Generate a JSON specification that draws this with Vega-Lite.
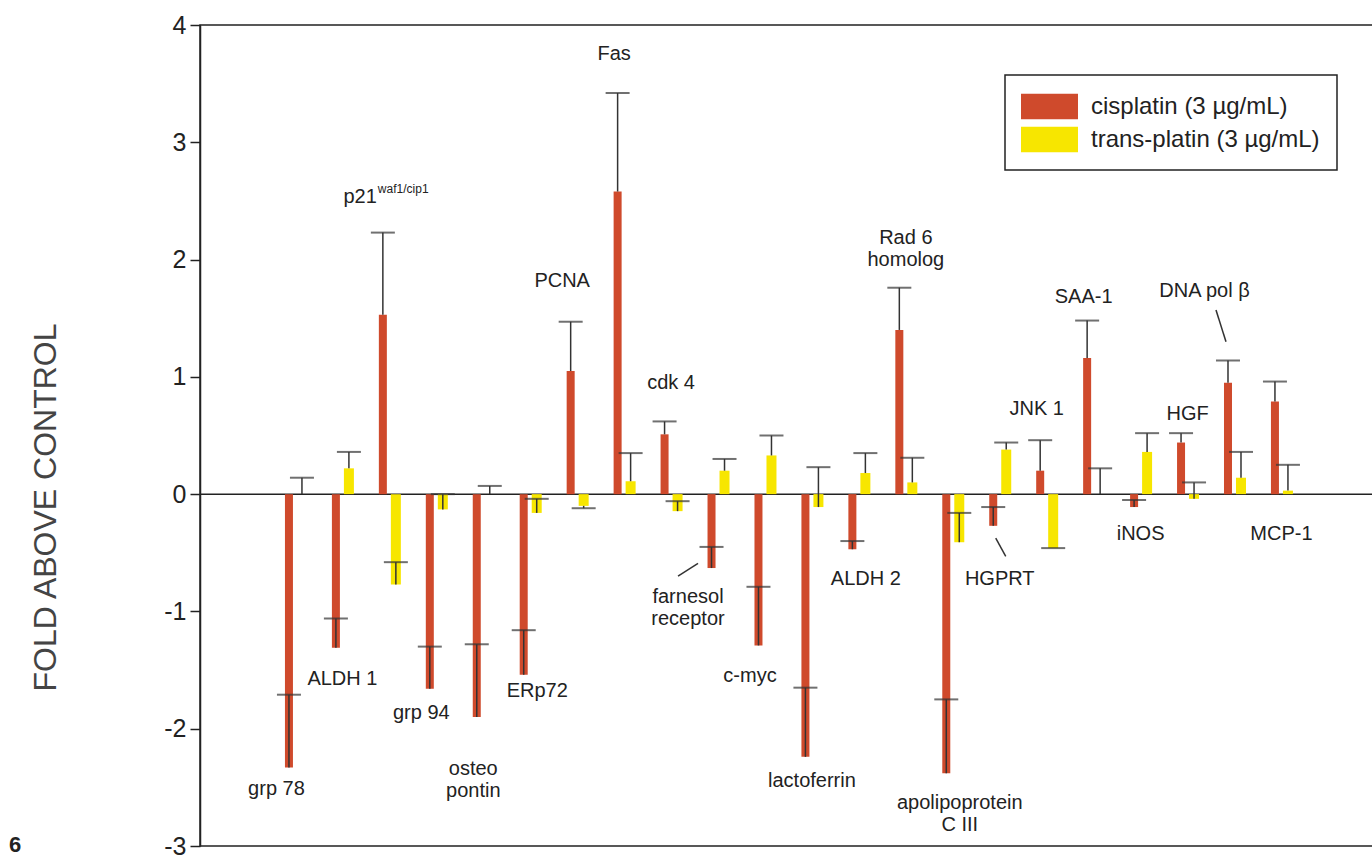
{
  "$schema": "https://vega.github.io/schema/vega-lite/v6.json",
  "width": 1177,
  "height": 821,
  "autosize": "none",
  "padding": {"left": 200, "top": 25, "right": 0, "bottom": 15},
  "background": "white",
  "config": {
    "font": "Liberation Sans",
    "view": {"stroke": "#222", "strokeWidth": 1.5},
    "legend": {"strokeWidth": 1.5}
  },
  "title": {"text": "6", "orient": "bottom", "anchor": "start", "frame": "bounds", "fontSize": 22, "fontWeight": "bold", "color": "#222", "dx": -20, "dy": -28},
  "datasets": {
    "bars": [
      {"gene": "grp 78", "series": "cisplatin (3 µg/mL)", "value": -2.33, "cap": -1.71},
      {"gene": "ALDH 1", "series": "cisplatin (3 µg/mL)", "value": -1.31, "cap": -1.06},
      {"gene": "p21", "series": "cisplatin (3 µg/mL)", "value": 1.53, "cap": 2.23},
      {"gene": "grp 94", "series": "cisplatin (3 µg/mL)", "value": -1.66, "cap": -1.30},
      {"gene": "osteopontin", "series": "cisplatin (3 µg/mL)", "value": -1.90, "cap": -1.28},
      {"gene": "ERp72", "series": "cisplatin (3 µg/mL)", "value": -1.54, "cap": -1.16},
      {"gene": "PCNA", "series": "cisplatin (3 µg/mL)", "value": 1.05, "cap": 1.47},
      {"gene": "Fas", "series": "cisplatin (3 µg/mL)", "value": 2.58, "cap": 3.42},
      {"gene": "cdk 4", "series": "cisplatin (3 µg/mL)", "value": 0.51, "cap": 0.62},
      {"gene": "farnesol receptor", "series": "cisplatin (3 µg/mL)", "value": -0.63, "cap": -0.45},
      {"gene": "c-myc", "series": "cisplatin (3 µg/mL)", "value": -1.29, "cap": -0.79},
      {"gene": "lactoferrin", "series": "cisplatin (3 µg/mL)", "value": -2.24, "cap": -1.65},
      {"gene": "ALDH 2", "series": "cisplatin (3 µg/mL)", "value": -0.47, "cap": -0.40},
      {"gene": "Rad 6 homolog", "series": "cisplatin (3 µg/mL)", "value": 1.40, "cap": 1.76},
      {"gene": "apolipoprotein C III", "series": "cisplatin (3 µg/mL)", "value": -2.38, "cap": -1.75},
      {"gene": "HGPRT", "series": "cisplatin (3 µg/mL)", "value": -0.27, "cap": -0.11},
      {"gene": "JNK 1", "series": "cisplatin (3 µg/mL)", "value": 0.20, "cap": 0.46},
      {"gene": "SAA-1", "series": "cisplatin (3 µg/mL)", "value": 1.16, "cap": 1.48},
      {"gene": "iNOS", "series": "cisplatin (3 µg/mL)", "value": -0.11, "cap": -0.05},
      {"gene": "HGF", "series": "cisplatin (3 µg/mL)", "value": 0.44, "cap": 0.52},
      {"gene": "DNA pol β", "series": "cisplatin (3 µg/mL)", "value": 0.95, "cap": 1.14},
      {"gene": "MCP-1", "series": "cisplatin (3 µg/mL)", "value": 0.79, "cap": 0.96},
      {"gene": "grp 78", "series": "trans-platin (3 µg/mL)", "value": 0, "cap": 0.14},
      {"gene": "ALDH 1", "series": "trans-platin (3 µg/mL)", "value": 0.22, "cap": 0.36},
      {"gene": "p21", "series": "trans-platin (3 µg/mL)", "value": -0.77, "cap": -0.58},
      {"gene": "grp 94", "series": "trans-platin (3 µg/mL)", "value": -0.13, "cap": 0.0},
      {"gene": "osteopontin", "series": "trans-platin (3 µg/mL)", "value": 0, "cap": 0.07},
      {"gene": "ERp72", "series": "trans-platin (3 µg/mL)", "value": -0.16, "cap": -0.04},
      {"gene": "PCNA", "series": "trans-platin (3 µg/mL)", "value": -0.10, "cap": -0.12},
      {"gene": "Fas", "series": "trans-platin (3 µg/mL)", "value": 0.11, "cap": 0.35},
      {"gene": "cdk 4", "series": "trans-platin (3 µg/mL)", "value": -0.145, "cap": -0.06},
      {"gene": "farnesol receptor", "series": "trans-platin (3 µg/mL)", "value": 0.20, "cap": 0.30},
      {"gene": "c-myc", "series": "trans-platin (3 µg/mL)", "value": 0.33, "cap": 0.50},
      {"gene": "lactoferrin", "series": "trans-platin (3 µg/mL)", "value": -0.11, "cap": 0.23},
      {"gene": "ALDH 2", "series": "trans-platin (3 µg/mL)", "value": 0.18, "cap": 0.35},
      {"gene": "Rad 6 homolog", "series": "trans-platin (3 µg/mL)", "value": 0.10, "cap": 0.31},
      {"gene": "apolipoprotein C III", "series": "trans-platin (3 µg/mL)", "value": -0.41, "cap": -0.16},
      {"gene": "HGPRT", "series": "trans-platin (3 µg/mL)", "value": 0.38, "cap": 0.44},
      {"gene": "JNK 1", "series": "trans-platin (3 µg/mL)", "value": -0.46, "cap": -0.46},
      {"gene": "SAA-1", "series": "trans-platin (3 µg/mL)", "value": 0, "cap": 0.22},
      {"gene": "iNOS", "series": "trans-platin (3 µg/mL)", "value": 0.36, "cap": 0.52},
      {"gene": "HGF", "series": "trans-platin (3 µg/mL)", "value": -0.04, "cap": 0.10},
      {"gene": "DNA pol β", "series": "trans-platin (3 µg/mL)", "value": 0.14, "cap": 0.36},
      {"gene": "MCP-1", "series": "trans-platin (3 µg/mL)", "value": 0.03, "cap": 0.25}
    ],
    "labels": [
      {"gene": "grp 78", "label": "grp 78", "ly": -2.51, "place": "L2"},
      {"gene": "ALDH 1", "label": "ALDH 1", "ly": -1.58, "place": "C"},
      {"gene": "grp 94", "label": "grp 94", "ly": -1.87, "place": "L15"},
      {"gene": "osteopontin", "label": "osteo\npontin", "ly": -2.34, "place": "L"},
      {"gene": "ERp72", "label": "ERp72", "ly": -1.68, "place": "R"},
      {"gene": "PCNA", "label": "PCNA", "ly": 1.82, "place": "L15"},
      {"gene": "Fas", "label": "Fas", "ly": 3.75, "place": "L"},
      {"gene": "cdk 4", "label": "cdk 4", "ly": 0.95, "place": "C"},
      {"gene": "farnesol receptor", "label": "farnesol\nreceptor", "ly": -0.88, "place": "LL"},
      {"gene": "c-myc", "label": "c-myc", "ly": -1.55, "place": "L15"},
      {"gene": "lactoferrin", "label": "lactoferrin", "ly": -2.45, "place": "C"},
      {"gene": "ALDH 2", "label": "ALDH 2", "ly": -0.72, "place": "R"},
      {"gene": "Rad 6 homolog", "label": "Rad 6\nhomolog", "ly": 2.18, "place": "C"},
      {"gene": "apolipoprotein C III", "label": "apolipoprotein\nC III", "ly": -2.63, "place": "R"},
      {"gene": "HGPRT", "label": "HGPRT", "ly": -0.72, "place": "C"},
      {"gene": "JNK 1", "label": "JNK 1", "ly": 0.73, "place": "L"},
      {"gene": "SAA-1", "label": "SAA-1", "ly": 1.68, "place": "L"},
      {"gene": "iNOS", "label": "iNOS", "ly": -0.34, "place": "C"},
      {"gene": "HGF", "label": "HGF", "ly": 0.68, "place": "C"},
      {"gene": "DNA pol β", "label": "DNA pol β", "ly": 1.73, "place": "LL"},
      {"gene": "MCP-1", "label": "MCP-1", "ly": -0.34, "place": "C"},
      {"gene": "p21", "label": "p21", "sup": "waf1/cip1", "ly": 2.53, "place": "P"}
    ],
    "leaders": [
      {"gene": "farnesol receptor", "y1": -0.70, "y2": -0.59},
      {"gene": "HGPRT", "y1": -0.375, "y2": -0.53},
      {"gene": "DNA pol β", "y1": 1.57, "y2": 1.30}
    ]
  },
  "layer": [
    {
      "data": {"values": [{}]},
      "mark": {"type": "rule", "color": "#222", "strokeWidth": 1.5},
      "encoding": {"y": {"datum": 0, "type": "quantitative", "scale": {"domain": [-3, 4], "nice": false, "zero": false}}}
    },
    {
      "data": {"name": "bars"},
      "transform": [{"filter": "datum.series === 'cisplatin (3 µg/mL)'"}],
      "mark": {"type": "bar", "width": 8, "xOffset": -6.5},
      "encoding": {
        "x": {"field": "gene", "type": "nominal", "sort": null, "axis": null,
              "scale": {"domain": ["grp 78", "ALDH 1", "p21", "grp 94", "osteopontin", "ERp72", "PCNA", "Fas", "cdk 4", "farnesol receptor", "c-myc", "lactoferrin", "ALDH 2", "Rad 6 homolog", "apolipoprotein C III", "HGPRT", "JNK 1", "SAA-1", "iNOS", "HGF", "DNA pol β", "MCP-1"], "paddingInner": 0, "paddingOuter": 0.5, "range": [48.5, 1128.4]}},
        "y": {"field": "value", "type": "quantitative", "title": "FOLD ABOVE CONTROL",
              "scale": {"domain": [-3, 4], "nice": false, "zero": false},
              "axis": {"values": [-3, -2, -1, 0, 1, 2, 3, 4], "labelExpr": "'' + datum.value", "grid": false, "domainColor": "#222", "domainWidth": 1.5, "tickColor": "#222", "tickWidth": 1.5, "tickSize": 10, "labelFontSize": 25, "labelColor": "#222", "labelPadding": 4, "titleFontSize": 32, "titleFontWeight": "normal", "titleColor": "#444", "titleX": -155, "titleY": 482, "titleAlign": "center", "titleBaseline": "middle", "titleAngle": 270}},
        "y2": {"datum": 0},
        "color": {"field": "series", "type": "nominal",
                  "scale": {"domain": ["cisplatin (3 µg/mL)", "trans-platin (3 µg/mL)"], "range": ["#cf4a2c", "#f7e600"]},
                  "legend": {"title": null, "orient": "none", "legendX": 805, "legendY": 50, "padding": 17, "symbolOffset": 13, "labelOffset": 27, "rowPadding": 5, "strokeColor": "#222", "fillColor": "white", "labelFontSize": 24, "labelLimit": 0, "labelColor": "#222", "symbolType": "M-2,-0.9H2V0.9H-2Z", "symbolSize": 812, "symbolStrokeWidth": 0}}
      }
    },
    {
      "data": {"name": "bars"},
      "transform": [{"filter": "datum.series === 'trans-platin (3 µg/mL)'"}],
      "mark": {"type": "bar", "width": 10, "xOffset": 6.5},
      "encoding": {
        "x": {"field": "gene", "type": "nominal", "sort": null},
        "y": {"field": "value", "type": "quantitative"},
        "y2": {"datum": 0},
        "color": {"field": "series", "type": "nominal"}
      }
    },
    {
      "data": {"name": "bars"},
      "transform": [{"filter": "datum.series === 'cisplatin (3 µg/mL)'"}],
      "mark": {"type": "rule", "color": "#333", "strokeWidth": 1.5, "xOffset": -6.5},
      "encoding": {
        "x": {"field": "gene", "type": "nominal", "sort": null},
        "y": {"field": "value", "type": "quantitative"},
        "y2": {"field": "cap"}
      }
    },
    {
      "data": {"name": "bars"},
      "transform": [{"filter": "datum.series === 'trans-platin (3 µg/mL)'"}],
      "mark": {"type": "rule", "color": "#333", "strokeWidth": 1.5, "xOffset": 6.5},
      "encoding": {
        "x": {"field": "gene", "type": "nominal", "sort": null},
        "y": {"field": "value", "type": "quantitative"},
        "y2": {"field": "cap"}
      }
    },
    {
      "data": {"name": "bars"},
      "transform": [{"filter": "datum.series === 'cisplatin (3 µg/mL)'"}],
      "mark": {"type": "tick", "orient": "horizontal", "color": "#333", "size": 24, "thickness": 2, "xOffset": -6.5},
      "encoding": {
        "x": {"field": "gene", "type": "nominal", "sort": null},
        "y": {"field": "cap", "type": "quantitative"}
      }
    },
    {
      "data": {"name": "bars"},
      "transform": [{"filter": "datum.series === 'trans-platin (3 µg/mL)'"}],
      "mark": {"type": "tick", "orient": "horizontal", "color": "#333", "size": 24, "thickness": 2, "xOffset": 6.5},
      "encoding": {
        "x": {"field": "gene", "type": "nominal", "sort": null},
        "y": {"field": "cap", "type": "quantitative"}
      }
    },
    {
      "data": {"name": "leaders"},
      "transform": [{"filter": "datum.gene === 'farnesol receptor'"}],
      "mark": {"type": "rule", "color": "#333", "strokeWidth": 1.5, "xOffset": -40, "x2Offset": -20},
      "encoding": {
        "x": {"field": "gene", "type": "nominal", "sort": null, "bandPosition": 0.5},
        "x2": {"field": "gene", "bandPosition": 0.5},
        "y": {"field": "y1", "type": "quantitative"},
        "y2": {"field": "y2"}
      }
    },
    {
      "data": {"name": "leaders"},
      "transform": [{"filter": "datum.gene === 'HGPRT'"}],
      "mark": {"type": "rule", "color": "#333", "strokeWidth": 1.5, "xOffset": -4, "x2Offset": 6},
      "encoding": {
        "x": {"field": "gene", "type": "nominal", "sort": null, "bandPosition": 0.5},
        "x2": {"field": "gene", "bandPosition": 0.5},
        "y": {"field": "y1", "type": "quantitative"},
        "y2": {"field": "y2"}
      }
    },
    {
      "data": {"name": "leaders"},
      "transform": [{"filter": "datum.gene === 'DNA pol β'"}],
      "mark": {"type": "rule", "color": "#333", "strokeWidth": 1.5, "xOffset": -18.5, "x2Offset": -8.5},
      "encoding": {
        "x": {"field": "gene", "type": "nominal", "sort": null, "bandPosition": 0.5},
        "x2": {"field": "gene", "bandPosition": 0.5},
        "y": {"field": "y1", "type": "quantitative"},
        "y2": {"field": "y2"}
      }
    },
    {
      "data": {"name": "labels"},
      "transform": [{"filter": "datum.place === 'LL'"}],
      "mark": {"type": "text", "dx": -30, "fontSize": 20, "color": "#222", "lineBreak": "\n", "lineHeight": 22, "baseline": "middle"},
      "encoding": {"x": {"field": "gene", "type": "nominal", "sort": null}, "y": {"field": "ly", "type": "quantitative"}, "text": {"field": "label"}}
    },
    {
      "data": {"name": "labels"},
      "transform": [{"filter": "datum.place === 'L2'"}],
      "mark": {"type": "text", "dx": -19, "fontSize": 20, "color": "#222", "lineBreak": "\n", "lineHeight": 22, "baseline": "middle"},
      "encoding": {"x": {"field": "gene", "type": "nominal", "sort": null}, "y": {"field": "ly", "type": "quantitative"}, "text": {"field": "label"}}
    },
    {
      "data": {"name": "labels"},
      "transform": [{"filter": "datum.place === 'L15'"}],
      "mark": {"type": "text", "dx": -15, "fontSize": 20, "color": "#222", "lineBreak": "\n", "lineHeight": 22, "baseline": "middle"},
      "encoding": {"x": {"field": "gene", "type": "nominal", "sort": null}, "y": {"field": "ly", "type": "quantitative"}, "text": {"field": "label"}}
    },
    {
      "data": {"name": "labels"},
      "transform": [{"filter": "datum.place === 'L'"}],
      "mark": {"type": "text", "dx": -10, "fontSize": 20, "color": "#222", "lineBreak": "\n", "lineHeight": 22, "baseline": "middle"},
      "encoding": {"x": {"field": "gene", "type": "nominal", "sort": null}, "y": {"field": "ly", "type": "quantitative"}, "text": {"field": "label"}}
    },
    {
      "data": {"name": "labels"},
      "transform": [{"filter": "datum.place === 'C'"}],
      "mark": {"type": "text", "dx": 0, "fontSize": 20, "color": "#222", "lineBreak": "\n", "lineHeight": 22, "baseline": "middle"},
      "encoding": {"x": {"field": "gene", "type": "nominal", "sort": null}, "y": {"field": "ly", "type": "quantitative"}, "text": {"field": "label"}}
    },
    {
      "data": {"name": "labels"},
      "transform": [{"filter": "datum.place === 'R'"}],
      "mark": {"type": "text", "dx": 7, "fontSize": 20, "color": "#222", "lineBreak": "\n", "lineHeight": 22, "baseline": "middle"},
      "encoding": {"x": {"field": "gene", "type": "nominal", "sort": null}, "y": {"field": "ly", "type": "quantitative"}, "text": {"field": "label"}}
    },
    {
      "data": {"name": "labels"},
      "transform": [{"filter": "datum.place === 'P'"}],
      "mark": {"type": "text", "dx": -12.5, "align": "right", "fontSize": 20, "color": "#222", "baseline": "middle"},
      "encoding": {"x": {"field": "gene", "type": "nominal", "sort": null}, "y": {"field": "ly", "type": "quantitative"}, "text": {"field": "label"}}
    },
    {
      "data": {"name": "labels"},
      "transform": [{"filter": "datum.place === 'P'"}],
      "mark": {"type": "text", "dx": -11.5, "dy": -8, "align": "left", "fontSize": 12, "color": "#222", "baseline": "middle"},
      "encoding": {"x": {"field": "gene", "type": "nominal", "sort": null}, "y": {"field": "ly", "type": "quantitative"}, "text": {"field": "sup"}}
    }
  ]
}
